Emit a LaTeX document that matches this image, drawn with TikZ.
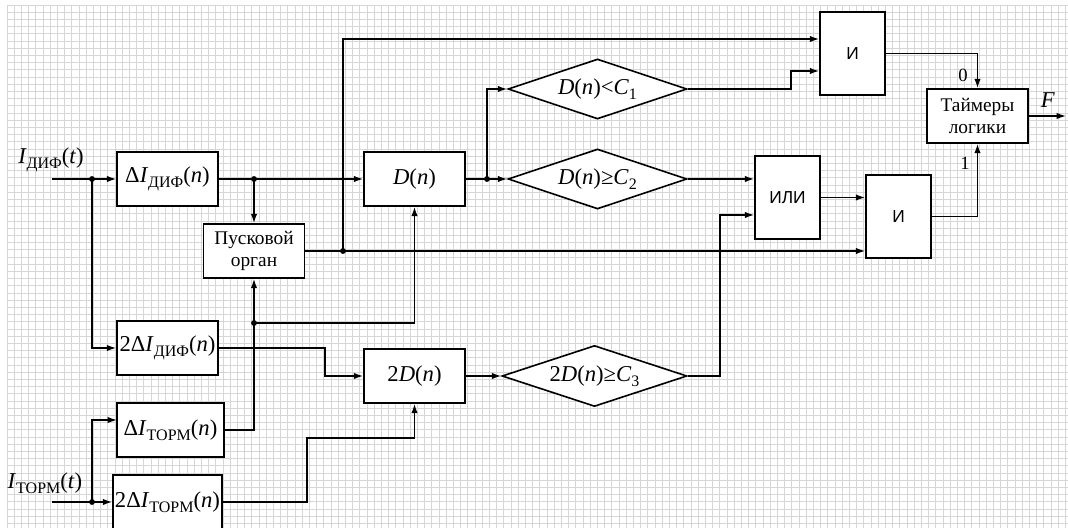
\documentclass[tikz,border=0pt]{standalone}
\usepackage{fontspec}
\setmainfont{Liberation Serif}
\newfontfamily\arialf{Liberation Sans}
\usetikzlibrary{shapes.geometric,arrows.meta}
\newcommand{\sbx}[1]{\raisebox{-0.5ex}{\fontsize{12}{12}\selectfont #1}}
\newcommand{\sbn}[1]{\raisebox{-0.5ex}{\fontsize{12}{12}\selectfont #1}}
\begin{document}
\begin{tikzpicture}[x=0.75pt,y=-0.75pt,
  blk/.style={draw, line width=1.2pt, fill=white, inner sep=0pt, minimum width=75.75pt, minimum height=40.5pt, font={\fontsize{17}{17}\selectfont}},
  txtblk/.style={draw, line width=1.2pt, fill=white, inner sep=0pt, minimum width=75.75pt, minimum height=40.5pt, align=center, font={\fontsize{14.5}{17}\selectfont}},
  logic/.style={draw, line width=1.2pt, fill=white, inner sep=0pt, minimum width=48.75pt, minimum height=62.25pt, font={\arialf\fontsize{13}{13}\selectfont}},
  dia/.style={diamond, aspect=3, draw, line width=1.2pt, fill=white, inner sep=0pt, minimum width=134.25pt, minimum height=45pt, font={\fontsize{17}{17}\selectfont}},
  arr/.style={line width=1.1pt, -{Latex[length=7pt,width=4.8pt]}},
  gridln/.style={line width=0.5pt, black!16},
  lbl/.style={inner sep=0pt, font={\fontsize{17}{17}\selectfont}},
  small/.style={inner sep=0pt, font={\fontsize{14}{14}\selectfont}}
]
\useasboundingbox (0,0) rectangle (1068,528);
\fill[white] (0,0) rectangle (1068,528);
% grid
\foreach \i in {0,...,147} \draw[gridln] ({7+\i*7.2},5) -- ({7+\i*7.2},528);
\foreach \j in {0,...,72} \draw[gridln] (7,{5+\j*7.2}) -- (1068,{5+\j*7.2});

% blocks
\node[blk] (dI) at (167.5,179) {Δ\textit{I}\sbx{ДИФ}(\textit{n})};
\node[blk] (tdI) at (167.5,348) {2Δ\textit{I}\sbx{ДИФ}(\textit{n})};
\node[blk, minimum width=80.25pt] (dT) at (170.5,430) {Δ\textit{I}\sbx{ТОРМ}(\textit{n})};
\node[blk, minimum width=81.75pt] (tdT) at (167.5,502) {2Δ\textit{I}\sbx{ТОРМ}(\textit{n})};
\node[txtblk] (Pusk) at (254,251) {Пусковой\\орган};
\node[blk] (D) at (414.5,179) {\textit{D}(\textit{n})};
\node[blk] (tD) at (414.5,376) {2\textit{D}(\textit{n})};
\node[dia] (dia1) at (597.5,89) {\textit{D}(\textit{n})<\textit{C}\sbn{1}};
\node[dia] (dia2) at (597.5,179) {\textit{D}(\textit{n})≥\textit{C}\sbn{2}};
\node[dia, minimum width=138.75pt, minimum height=45.75pt] (dia3) at (594.5,376) {2\textit{D}(\textit{n})≥\textit{C}\sbn{3}};
\node[logic] (And1) at (852.5,53.5) {И};
\node[logic] (Or) at (787.5,197.5) {ИЛИ};
\node[logic] (And2) at (898.5,216.5) {И};
\node[txtblk] (Tim) at (977.5,116) {Таймеры\\логики};

% labels
\node[lbl] (lD) at (51,160) {\textit{I}\sbx{ДИФ}(\textit{t})};
\node[lbl] (lT) at (45,483) {\textit{I}\sbx{ТОРМ}(\textit{t})};
\node[small] (l0) at (963,75) {0};
\node[small] (l1) at (965,163) {1};
\node[lbl] (lF) at (1048,100) {\textit{F}};

% coordinates
\coordinate (inD) at (52,179);
\coordinate (j1) at (92,179);
\coordinate (j2) at (254,179);
\coordinate (j3) at (343,251);
\coordinate (top) at (343,39);
\coordinate (j4) at (487,179);
\coordinate (b1) at (791,89);
\coordinate (b2) at (791,71);
\coordinate (c1) at (720,376);
\coordinate (c2) at (720,215);
\coordinate (inT) at (52,502);
\coordinate (j5) at (92,502);
\coordinate (tin) at (117,420);
\coordinate (j6) at (254,323);
\coordinate (k1) at (325,348);
\coordinate (k2) at (307,438);
\coordinate (out) at (1066,116);

% connectors
\draw[arr] (inD) -- (dI.west);
\draw[arr] (j1) |- (tdI.west);
\draw[arr] (dI.east) -- (D.west);
\draw[arr] (j2) -- (Pusk.north);
\draw[arr] (Pusk.east) -- (And2.west |- Pusk.east);
\draw[arr] (j3) -- (top) -- (And1.west |- top);
\draw[arr] (D.east) -- (dia2.west);
\draw[arr] (j4) |- (dia1.west);
\draw[arr] (dia1.east) -- (b1) -- (b2) -- (And1.west |- b2);
\draw[arr] (dia2.east) -- (Or.west |- dia2.east);
\draw[arr] (dia3.east) -- (c1) -- (c2) -- (Or.west |- c2);
\draw[arr] (Or.east) -- (And2.west |- Or.east);
\draw[arr] (And1.east) -| (Tim.north);
\draw[arr] (And2.east) -| (Tim.south);
\draw[arr] (Tim.east) -- (out);
\draw[arr] (tdI.east) -- (k1) |- (tD.west);
\draw[arr] (tD.east) -- (dia3.west);
\draw[arr] (inT) -- (tdT.west);
\draw[arr] (j5) |- (tin);
\draw[arr] (dT.east) -| (Pusk.south);
\draw[arr] (j6) -| (D.south);
\draw[arr] (tdT.east) -- (k2 |- tdT.east) -- (k2) -| (tD.south);

% dots
\foreach \p in {j1,j2,j3,j4,j5,j6} \fill (\p) circle (2.2pt);
\end{tikzpicture}
\end{document}
